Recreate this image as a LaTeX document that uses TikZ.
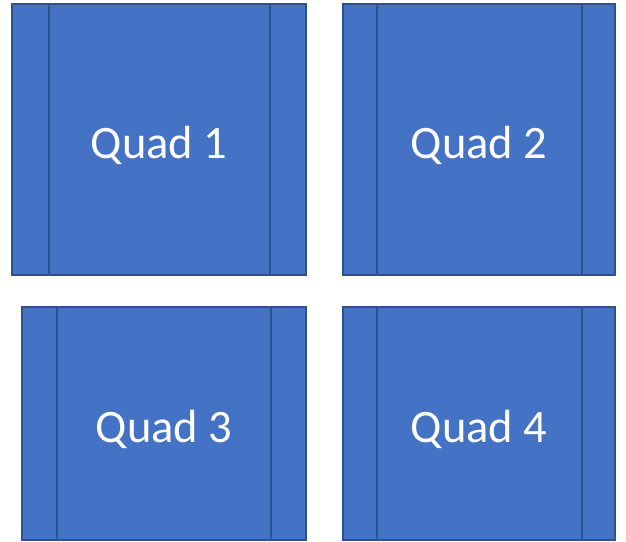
\documentclass[tikz,border=0pt]{standalone}
\usepackage{fontspec}
\setmainfont{Carlito}
\definecolor{quadfill}{HTML}{4472C4}
\definecolor{quadline}{HTML}{2F528F}
\tikzset{
  quad/.style={draw=quadline,fill=quadfill,line width=1.8pt,text=white,
    font=\fontsize{46.5}{50}\selectfont,inner sep=0pt,
    text height=42pt,text depth=4pt},
  bar/.style={draw=quadline,line width=2.2pt}
}
\begin{document}
\begin{tikzpicture}[x=1pt,y=-1pt]
\useasboundingbox (0,0) rectangle (626,541);
\node[quad,minimum width=294pt,minimum height=271pt] (q1) at (159,139.5) {Quad 1};
\node[quad,minimum width=272pt,minimum height=271pt] (q2) at (479,139.5) {Quad 2};
\node[quad,minimum width=284pt,minimum height=233pt] (q3) at (164,423.5) {Quad 3};
\node[quad,minimum width=272pt,minimum height=233pt] (q4) at (479,423.5) {Quad 4};
% side strips
\draw[bar] ([xshift=38pt]q1.north west) -- ([xshift=38pt]q1.south west);
\draw[bar] ([xshift=-37pt]q1.north east) -- ([xshift=-37pt]q1.south east);
\draw[bar] ([xshift=35pt]q2.north west) -- ([xshift=35pt]q2.south west);
\draw[bar] ([xshift=-34pt]q2.north east) -- ([xshift=-34pt]q2.south east);
\draw[bar] ([xshift=36pt]q3.north west) -- ([xshift=36pt]q3.south west);
\draw[bar] ([xshift=-36pt]q3.north east) -- ([xshift=-36pt]q3.south east);
\draw[bar] ([xshift=35pt]q4.north west) -- ([xshift=35pt]q4.south west);
\draw[bar] ([xshift=-34pt]q4.north east) -- ([xshift=-34pt]q4.south east);
\end{tikzpicture}
\end{document}
